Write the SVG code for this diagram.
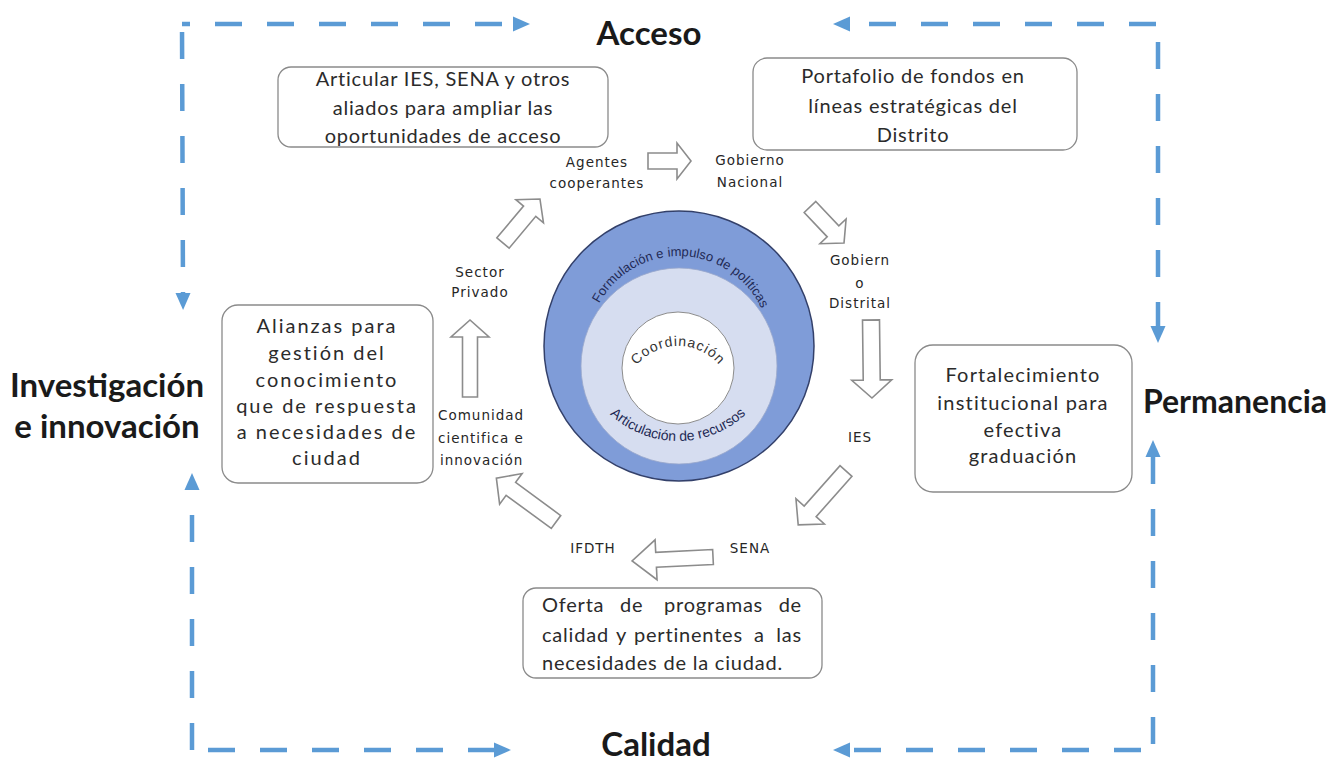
<svg xmlns="http://www.w3.org/2000/svg" width="1331" height="763" viewBox="0 0 1331 763">
<style>
.title{font-family:Lato,"Liberation Sans",sans-serif;font-weight:bold;font-size:33px;fill:#1a1a1a;text-anchor:middle}
.box{fill:#fff;stroke:#8a8a8a;stroke-width:1.3}
.bt{font-family:Lato,"Liberation Sans",sans-serif;font-size:20px;fill:#2b2b2b;text-anchor:middle;letter-spacing:0.8px}
.lbl{font-family:"DejaVu Sans",sans-serif;font-size:13.5px;fill:#262626;text-anchor:middle;letter-spacing:1px}
.dash{fill:none;stroke:#5B9BD5;stroke-width:4.5;stroke-dasharray:27 25;marker-end:url(#bh)}
.blk{fill:#fff;stroke:#8c8c8c;stroke-width:1.6;stroke-linejoin:miter}
.ring{font-family:"Liberation Sans",sans-serif;fill:#1F2A55}
</style>
<defs>
<marker id="bh" markerUnits="userSpaceOnUse" markerWidth="18" markerHeight="18" viewBox="0 0 18 18" refX="0" refY="9" orient="auto">
<path d="M0,1.5 L17,9 L0,16.5 Z" fill="#5B9BD5"/>
</marker>
<path id="arcOuter" d="M 588,347 A 91,91 0 0 1 770,347"/>
<path id="arcCoord" d="M 624,400 A 54,54 0 0 1 732,400"/>
<path id="arcRec" d="M 578,341 A 100,100 0 0 0 778,341"/>
</defs>
<rect width="1331" height="763" fill="#fff"/>

<g id="connectors">
<line class="dash" x1="182" y1="24" x2="513" y2="24" style="stroke-dashoffset:19"/>
<line class="dash" x1="182" y1="24" x2="183" y2="293" style="stroke-dashoffset:-8"/>
<line class="dash" x1="1156" y1="24" x2="850" y2="24"/>
<line class="dash" x1="1158" y1="24" x2="1158" y2="326" style="stroke-dashoffset:-18"/>
<line class="dash" x1="192" y1="750" x2="192" y2="490"/>
<line class="dash" x1="192" y1="750" x2="494" y2="750" style="stroke-dashoffset:-16"/>
<line class="dash" x1="1153" y1="750" x2="1153" y2="457" style="stroke-dashoffset:-6"/>
<line class="dash" x1="1153" y1="750" x2="850" y2="750" style="stroke-dashoffset:-12"/>

<polygon class="blk" transform="translate(648,161)" points="0,-8 29,-8 29,-18 43,0 29,18 29,8 0,8"/>
<polygon class="blk" transform="translate(810,207) rotate(46.6)" points="0,-8 33.5,-8 33.5,-18 49.5,0 33.5,18 33.5,8 0,8"/>
<polygon class="blk" transform="translate(871,320) rotate(89.3)" points="0,-8.5 60,-8.5 60,-20 78,0 60,20 60,8.5 0,8.5"/>
<polygon class="blk" transform="translate(846,471) rotate(131.6)" points="0,-8 54,-8 54,-19 72,0 54,19 54,8 0,8"/>
<polygon class="blk" transform="translate(713,557) rotate(177.2)" points="0,-7.5 57,-7.5 57,-20 81,0 57,20 57,7.5 0,7.5"/>
<polygon class="blk" transform="translate(556,522) rotate(216.3)" points="0,-8 56,-8 56,-19 74,0 56,19 56,8 0,8"/>
<polygon class="blk" transform="translate(470,397) rotate(-90)" points="0,-7.5 60,-7.5 60,-19 77,0 60,19 60,7.5 0,7.5"/>
<polygon class="blk" transform="translate(503,243) rotate(-50)" points="0,-8 41.5,-8 41.5,-18 57.5,0 41.5,18 41.5,8 0,8"/>
</g>

<g id="titles">
<text class="title" x="649" y="45">Acceso</text>
<text class="title" x="656" y="756">Calidad</text>
<text class="title" x="107" y="397">Investigación</text>
<text class="title" x="107" y="438">e innovación</text>
<text class="title" x="1235" y="413" style="font-size:32px">Permanencia</text>
</g>

<g id="box-articular">
<rect class="box" x="278" y="67" width="330" height="80" rx="13"/>
<text class="bt" x="443" y="86">Articular IES,  SENA y otros</text>
<text class="bt" x="443" y="115">aliados para ampliar las</text>
<text class="bt" x="443" y="143">oportunidades de acceso</text>
</g>

<g id="box-portafolio">
<rect class="box" x="753" y="58" width="324" height="92" rx="14"/>
<text class="bt" x="913" y="83">Portafolio de fondos en</text>
<text class="bt" x="913" y="113">líneas estratégicas del</text>
<text class="bt" x="913" y="142">Distrito</text>
</g>

<g id="box-alianzas">
<rect class="box" x="222" y="305" width="211" height="178" rx="16"/>
<text class="bt" x="327" y="333" style="letter-spacing:2px">Alianzas para</text>
<text class="bt" x="327" y="360" style="letter-spacing:2px">gestión del</text>
<text class="bt" x="327" y="387" style="letter-spacing:2px">conocimiento</text>
<text class="bt" x="327" y="413" style="letter-spacing:2px">que de respuesta</text>
<text class="bt" x="327" y="439" style="letter-spacing:2px">a necesidades de</text>
<text class="bt" x="327" y="465" style="letter-spacing:2px">ciudad</text>
</g>

<g id="box-fortalecimiento">
<rect class="box" x="915" y="345" width="217" height="147" rx="18"/>
<text class="bt" x="1023" y="382" style="letter-spacing:1.2px">Fortalecimiento</text>
<text class="bt" x="1023" y="410" style="letter-spacing:1.2px">institucional para</text>
<text class="bt" x="1023" y="437" style="letter-spacing:1.2px">efectiva</text>
<text class="bt" x="1023" y="463" style="letter-spacing:1.2px">graduación</text>
</g>

<g id="box-oferta">
<rect class="box" x="523" y="588" width="299" height="90" rx="13"/>
<text class="bt" x="542" y="612" style="text-anchor:start">Oferta</text>
<text class="bt" x="620" y="612" style="text-anchor:start">de</text>
<text class="bt" x="664" y="612" style="text-anchor:start">programas</text>
<text class="bt" x="802" y="612" style="text-anchor:end">de</text>
<text class="bt" x="542" y="642" style="text-anchor:start">calidad</text>
<text class="bt" x="616" y="642" style="text-anchor:start">y</text>
<text class="bt" x="634" y="642" style="text-anchor:start">pertinentes</text>
<text class="bt" x="754" y="642" style="text-anchor:start">a</text>
<text class="bt" x="802" y="642" style="text-anchor:end">las</text>
<text class="bt" x="542" y="670" style="text-anchor:start">necesidades de la ciudad.</text>
</g>

<g id="target">
<circle cx="679" cy="346" r="135" fill="#7F9CD8" stroke="#33406A" stroke-width="1.5"/>
<circle cx="679" cy="366" r="98" fill="#D6DDF0" stroke="#9AA8CC" stroke-width="0.8"/>
<circle cx="678" cy="368" r="56" fill="#fff" stroke="#8C8C8C" stroke-width="1"/>
<text class="ring" style="font-size:13px"><textPath href="#arcOuter" startOffset="51%" text-anchor="middle">Formulación e impulso de políticas</textPath></text>
<text class="ring" style="font-size:14px"><textPath href="#arcRec" startOffset="50%" text-anchor="middle">Articulación de recursos</textPath></text>
<text style="font-family:'Liberation Sans',sans-serif;font-size:14px;fill:#333;letter-spacing:1px"><textPath href="#arcCoord" startOffset="50%" text-anchor="middle">Coordinación</textPath></text>
</g>

<g id="agentes"><text class="lbl" x="597" y="167">Agentes</text><text class="lbl" x="597" y="188">cooperantes</text></g>
<g id="gob-nacional"><text class="lbl" x="750" y="165">Gobierno</text><text class="lbl" x="750" y="187">Nacional</text></g>
<g id="gob-distrital"><text class="lbl" x="860" y="265">Gobiern</text><text class="lbl" x="860" y="288">o</text><text class="lbl" x="860" y="308">Distrital</text></g>
<g id="ies"><text class="lbl" x="860" y="442">IES</text></g>
<g id="sena"><text class="lbl" x="750" y="553">SENA</text></g>
<g id="ifdth"><text class="lbl" x="593" y="553">IFDTH</text></g>
<g id="comunidad"><text class="lbl" x="438" y="420" style="text-anchor:start">Comunidad</text><text class="lbl" x="438" y="443" style="text-anchor:start">cientifica e</text><text class="lbl" x="440" y="465" style="text-anchor:start">innovación</text></g>
<g id="sector"><text class="lbl" x="480" y="277">Sector</text><text class="lbl" x="480" y="297">Privado</text></g>
</svg>
